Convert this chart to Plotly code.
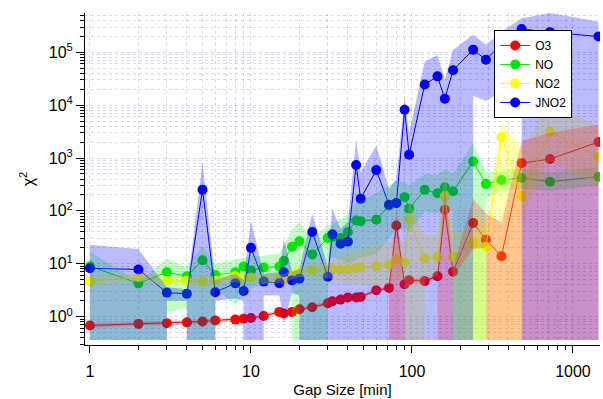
import plotly.graph_objects as go

# ---------------- data ----------------
gap_min = [1, 2, 3, 4, 5, 6, 8, 9, 10, 12, 15, 16, 18, 20, 24, 30, 32, 36, 40, 45, 48,
           60, 72, 80, 90, 96, 120, 144, 160, 180, 240, 288, 360, 480, 720, 1440]

o3 = [0.68, 0.73, 0.75, 0.78, 0.81, 0.85, 0.88, 0.91, 0.94, 1.03, 1.23, 1.15, 1.23, 1.38,
      1.51, 1.79, 1.96, 2.1, 2.3, 2.3, 2.36, 3.15, 3.5, 53, 4.1, 4.9, 4.7, 5.8, 105, 7.1,
      59, 28.6, 13.9, 800, 955, 2000]
no = [9.0, 4.26, 6.9, 5.8, 11.7, 6.1, 6.9, 8.9, 7.5, 8.5, 8.9, 11.4, 21, 26.6, 15, 30.8,
      32, 30.8, 40, 66, 64, 68, 126, 142, 182, 110, 250, 215, 280, 235, 860, 323, 385,
      420, 355, 443]
no2 = [4.7, 5.6, 4.8, 4.8, 4.6, 4.8, 5.8, 5.2, 5.5, 5.1, 5.3, 5.0, 6.3, 6.9, 7.6, 7.6,
       7.9, 7.8, 7.9, 8.2, 8.5, 9.0, 9.6, 12, 10.6, 69, 12.6, 13.5, 190, 13.5, 24.8, 21,
       2500, 190, 3150, 1050]
jno2 = [8.2, 7.8, 2.85, 2.7, 252, 2.9, 4.26, 3.05, 20, 4.6, 4.3, 6.9, 4.85, 5.2, 40, 5.7,
        36, 24, 26, 735, 169, 590, 131, 140, 8200, 1150, 24500, 35000, 13200, 45500,
        112000, 72000, 145000, 275000, 240000, 198000]

# band limits (None = lower limit not positive -> filled down to the plot floor)
o3_hi = [0.75, 0.8, 0.82, 0.85, 0.88, 0.93, 0.96, 1.0, 1.03, 1.13, 1.35, 1.27, 1.35, 1.52,
         1.66, 1.97, 2.15, 2.3, 2.55, 2.55, 2.6, 3.5, 3.9, 120, 4.5, 5.4, 5.2, 6.4, 300,
         8.5, 170, 90, 60, 2100, 3000, 4300]
o3_lo = [0.62, 0.67, 0.69, 0.71, 0.74, 0.78, 0.8, 0.83, 0.86, 0.94, 1.12, 1.05, 1.12, 1.26,
         1.38, 1.63, 1.78, 1.92, 2.1, 2.1, 2.15, 2.9, 3.2, None, 3.7, 4.4, 4.2, 5.2, None,
         5.8, 19, 20, None, None, None, None]

no_hi = [17, 4.5, 12.5, 8.5, 22, 10, 12, 13, 14, 14, 16, 22, 45, 60, 30, 53, 55, 70, 85,
         150, 150, 220, 300, 370, 350, 300, 500, 480, 620, 500, 1970, 530, 570, 620, 530, 670]
no_lo = [None, None, 1.15, 1.5, None, 3.4, 1.7, 2.5, 3.5, 4, 4.5, 5.5, 8, None, None, 12,
         13, 12, 10, 12, 13, 15, 30, 45, 45, 40, 95, 90, 110, 100, None, 170, 240, 260,
         240, 300]

no2_hi = [5.8, 6.8, 5.9, 5.9, 5.7, 5.9, 7.5, 6.3, 6.7, 6.3, 6.5, 6.2, 7.8, 8.5, 10, 11, 12,
          13, 15, 17, 18, 22, 25, 30, 25, 150, 35, 35, 570, 40, 40, 60, 5000, 1450, 11000, 4000]
no2_lo = [3.8, 4.6, 3.9, 3.9, 3.7, 3.9, 4.5, 4.2, 4.5, 4.1, 4.3, 4.0, 5.1, 5.6, 5.5, 5.3,
          5.0, 4.5, 4.0, 4.0, 4.0, 3.8, 4.0, 5, 5, None, 5, 6, 60, 5, None, 12, None, 80,
          900, 300]

jno2_hi = [23, 19, 3.6, 3.3, 830, 5, 6.5, 5, 66, 6.5, 7, 30, 7, 8, 88, 9, 110, 46, 62,
           2250, 540, 1700, 260, 400, 14500, 3000, 67000, 89000, 30000, 112000, 213000,
           138000, 245000, 437000, 550000, 380000]
jno2_lo = [None, None, 2.0, 2.0, None, 2.0, 2.2, 2.0, None, 2.5, 2.5, 0.75, 2.8, 2.5, None,
           None, None, None, None, None, None, None, None, None, None, None, None, None,
           None, None, 15000, 12000, 18000, 25000, None, None]

series_names = ["O3", "NO", "NO2", "JNO2"]
series_vals = [o3, no, no2, jno2]
series_hi = [o3_hi, no_hi, no2_hi, jno2_hi]
series_lo = [o3_lo, no_lo, no2_lo, jno2_lo]
line_colors = ["#ff0000", "#00e000", "#ffff00", "#0000ff"]
band_colors = ["rgba(255,0,0,0.22)", "rgba(0,255,0,0.24)",
               "rgba(255,255,0,0.30)", "rgba(0,0,255,0.27)"]

FILL_FLOOR = 0.36
FONT = "Liberation Sans, Arial, sans-serif"


def band_polygon(x, hi, lo, floor):
    """Polygon for a band; a segment touching a missing lower limit is filled to the floor."""
    px = list(x)
    py = list(hi)
    n = len(x)
    for i in range(n - 2, -1, -1):
        floored = lo[i] is None or lo[i + 1] is None
        rv = floor if floored else lo[i + 1]
        lv = floor if floored else lo[i]
        px += [x[i + 1], x[i]]
        py += [rv, lv]
    return px, py


fig = go.Figure()

# lines + markers
for name, vals, col in zip(series_names, series_vals, line_colors):
    fig.add_trace(go.Scatter(
        x=gap_min, y=vals, name=name, mode="lines+markers",
        line=dict(color=col, width=1),
        marker=dict(color=col, size=10, line=dict(width=0)),
    ))

# bands drawn on top (semi-transparent)
for k in [1, 2, 3, 0]:
    bx, by = band_polygon(gap_min, series_hi[k], series_lo[k], FILL_FLOOR)
    fig.add_trace(go.Scatter(
        x=bx, y=by, mode="lines", fill="toself", fillcolor=band_colors[k],
        line=dict(width=0), hoverinfo="skip", showlegend=False,
    ))

grid_col = "rgba(110,110,235,0.28)"
x_major = [1, 10, 100, 1000]
x_minor = [m * d for d in [1, 10, 100, 1000] for m in range(2, 10)]
y_major = [1, 10, 100, 1000, 10000, 100000]
y_text = ["10<sup>0</sup>", "10<sup>1</sup>", "10<sup>2</sup>", "10<sup>3</sup>",
          "10<sup>4</sup>", "10<sup>5</sup>"]
y_minor = [m * d for d in [0.1, 1, 10, 100, 1000, 10000, 100000] for m in range(2, 10)]

fig.update_layout(
    width=603, height=399,
    margin=dict(l=85, r=3, t=13, b=52),
    paper_bgcolor="white", plot_bgcolor="white",
    font=dict(family=FONT, color="black", size=16),
    showlegend=True,
    legend=dict(
        x=0.946, y=0.949, xanchor="right", yanchor="top",
        bgcolor="white", bordercolor="black", borderwidth=1,
        font=dict(size=12, family=FONT),
        itemwidth=30, tracegroupgap=0,
    ),
    xaxis=dict(
        type="log", range=[-0.031, 3.168],
        showline=True, linecolor="black", linewidth=1, mirror=False,
        ticks="outside", ticklen=7, tickcolor="black",
        tickmode="array", tickvals=x_major, ticktext=[str(v) for v in x_major],
        tickfont=dict(size=16), ticklabelstandoff=5,
        showgrid=True, gridcolor=grid_col, griddash="dot", gridwidth=1,
        minor=dict(tickmode="array", tickvals=x_minor, ticks="outside", ticklen=4,
                   tickcolor="black", showgrid=True, gridcolor=grid_col,
                   griddash="dot", gridwidth=1),
        zeroline=False,
        title=dict(text="Gap Size [min]", font=dict(size=15), standoff=5),
    ),
    yaxis=dict(
        type="log", range=[-0.536, 5.742],
        showline=True, linecolor="black", linewidth=1,
        ticks="outside", ticklen=8, tickcolor="black",
        tickmode="array", tickvals=y_major, ticktext=y_text,
        tickfont=dict(size=16),
        showgrid=True, gridcolor=grid_col, griddash="dot", gridwidth=1,
        minor=dict(tickmode="array", tickvals=y_minor, ticks="outside", ticklen=4,
                   tickcolor="black", showgrid=True, gridcolor=grid_col,
                   griddash="dot", gridwidth=1),
        zeroline=False,
        title=dict(text="χ<sup>2</sup>", font=dict(size=16), standoff=10),
    ),
)

fig.write_html("out.html")
